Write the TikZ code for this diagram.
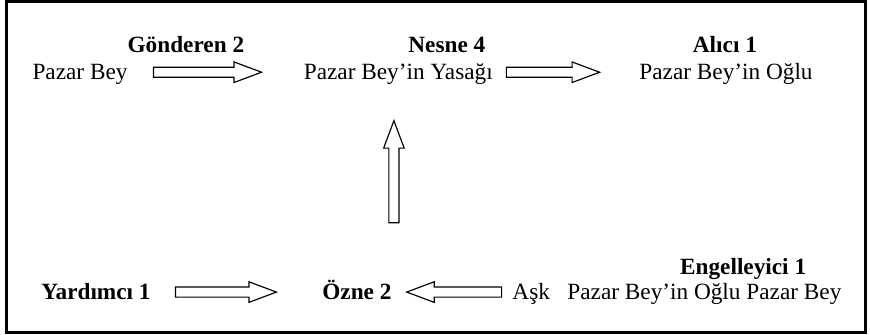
\documentclass[tikz,border=0pt]{standalone}
\usepackage{fontspec}
\setmainfont{Liberation Serif}
\usetikzlibrary{shapes.arrows}

\begin{document}
\begin{tikzpicture}[
    etiket/.style={anchor=base, inner sep=0pt, font=\fontsize{12}{14}\selectfont, text height=10pt, text depth=2pt},
    baslik/.style={etiket, font=\fontsize{12}{14}\selectfont\bfseries},
    okblok/.style={single arrow, draw, line width=0.6pt, fill=white, inner xsep=0pt, inner ysep=2.3pt, outer sep=0pt,
        minimum width=10pt, single arrow head extend=2.7pt, single arrow tip angle=41,
        minimum height=#1, sloped, allow upside down}
]
    \useasboundingbox (0,0) rectangle (15.77,6.07);
    % Çerçeve
    \draw[line width=1.5pt] (0.11,0.05) rectangle (15.68,6.04);

    % Üst satır: Gönderen - Nesne - Alıcı
    \node[baslik] (gonderen) at (3.37,5.12) {Gönderen 2};
    \node[etiket] (pazar) at (1.45,4.62) {Pazar Bey};
    \node[baslik] (nesne) at (8.10,5.12) {Nesne 4};
    \node[etiket] (yasak) at (7.22,4.62) {Pazar Bey’in Yasağı};
    \node[baslik] (alici) at (13.14,5.12) {Alıcı 1};
    \node[etiket] (oglu) at (13.16,4.62) {Pazar Bey’in Oğlu};

    % Alt satır: Yardımcı - Özne - Engelleyici
    \node[baslik] (yardimci) at (1.74,0.635) {Yardımcı 1};
    \node[baslik] (ozne) at (6.47,0.635) {Özne 2};
    \node[baslik] (engel) at (13.47,1.09) {Engelleyici 1};
    \node[etiket] (ask) at (12.27,0.635) {Aşk\ \ \ Pazar Bey’in Oğlu Pazar Bey};

    % Oklar
    \path (pazar) -- (yasak) node[okblok=1.96cm, pos=0.415] {};
    \path (yasak) -- (oglu) node[okblok=1.69cm, pos=0.364] {};
    \path ([xshift=-0.08cm]yasak.south |- ozne.north) -- ([xshift=-0.08cm]yasak.south) node[okblok=1.85cm, pos=0.519] {};
    \path (yardimci) -- (ozne) node[okblok=1.83cm, pos=0.399] {};
    \path (ask) -- (ozne) node[okblok=1.72cm, pos=0.426] {};
\end{tikzpicture}
\end{document}
